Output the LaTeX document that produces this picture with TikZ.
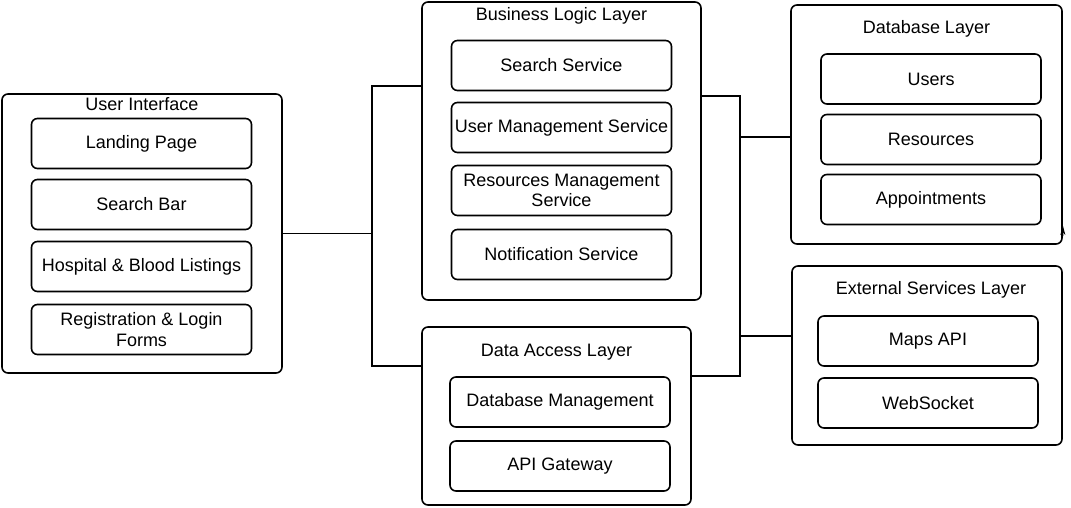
\documentclass[tikz,border=0pt]{standalone}
\usepackage{fontspec}
\setmainfont{Liberation Sans}
\usepackage{tikz}
\usetikzlibrary{calc}
\usetikzlibrary{arrows.meta}

\begin{document}
\begin{tikzpicture}[x=1pt,y=-1pt,
  layerbox/.style={draw,line width=1.6pt,rounded corners=6pt,inner sep=0pt},
  itembox/.style={draw,line width=1.6pt,rounded corners=6pt,inner sep=0pt,
    minimum width=220pt,minimum height=50pt,align=center,
    font=\fontsize{18}{20.5}\selectfont},
  title/.style={inner sep=0pt,font=\fontsize{18}{20.5}\selectfont},
  wire/.style={line width=1.1pt}]
\useasboundingbox (0,0) rectangle (1071,507);

% layers
\node[layerbox,minimum width=280pt,minimum height=279pt] (ui) at (142,233.5) {};
\node[layerbox,minimum width=279pt,minimum height=298pt] (bll) at (561.5,151) {};
\node[layerbox,minimum width=269pt,minimum height=178pt] (dal) at (556.5,416) {};
\node[layerbox,minimum width=271pt,minimum height=239pt] (db) at (926.5,124.5) {};
\node[layerbox,minimum width=270pt,minimum height=179pt] (esl) at (927,355.5) {};

\node[title] (uiT) at (142,104) {User Interface};
\node[title] (bllT) at (561.5,16) {Business Logic Layer};
\node[title] (dalT) at (556.5,352) {Data Access Layer};
\node[title] (dbT) at (926.5,29) {Database Layer};
\node[title] (eslT) at (931,290) {External Services Layer};

% items
\foreach \y/\t [count=\i] in {143.5/{Landing Page},204.5/{Search Bar},
  266.5/{Hospital \& Blood Listings},329.5/{Registration \& Login\\Forms}}
{
	\node[itembox] (ui\i) at (141.5,\y) {\t};
}
\foreach \y/\t [count=\i] in {65.5/{Search Service},127.5/{User Management Service},
  190.5/{Resources Management\\Service},254.5/{Notification Service}}
{
	\node[itembox] (bl\i) at (561.5,\y) {\t};
}
\foreach \y/\t [count=\i] in {402/{Database Management},466/{API Gateway}}
{
	\node[itembox] (da\i) at (560,\y) {\t};
}
\foreach \y/\t [count=\i] in {79/{Users},139.5/{Resources},199.5/{Appointments}}
{
	\node[itembox] (db\i) at (931,\y) {\t};
}
\foreach \y/\t [count=\i] in {341/{Maps API},403/{WebSocket}}
{
	\node[itembox] (ex\i) at (928,\y) {\t};
}

% links
\coordinate (lbus) at (372,233.5);
\coordinate (ltop) at (372,86);
\coordinate (lbot) at (372,366);
\draw[wire] (ui.east) -- (lbus);
\draw[wire] (bll.west |- ltop) -- (ltop) -- (lbot) -- (dal.west |- lbot);

\coordinate (rtop) at (740,96);
\coordinate (rbot) at (740,376);
\coordinate (rdb) at (740,137);
\coordinate (rex) at (740,336);
\draw[wire] (bll.east |- rtop) -- (rtop) -- (rbot) -- (dal.east |- rbot);
\draw[wire] (rdb) -- (db.west |- rdb);
\draw[wire] (rex) -- (esl.west |- rex);

\coordinate (tip) at (1063,226);
\draw[wire,-{Stealth[length=9pt,width=5pt]}] (db.east |- 0,236) -- (tip);
\end{tikzpicture}
\end{document}
